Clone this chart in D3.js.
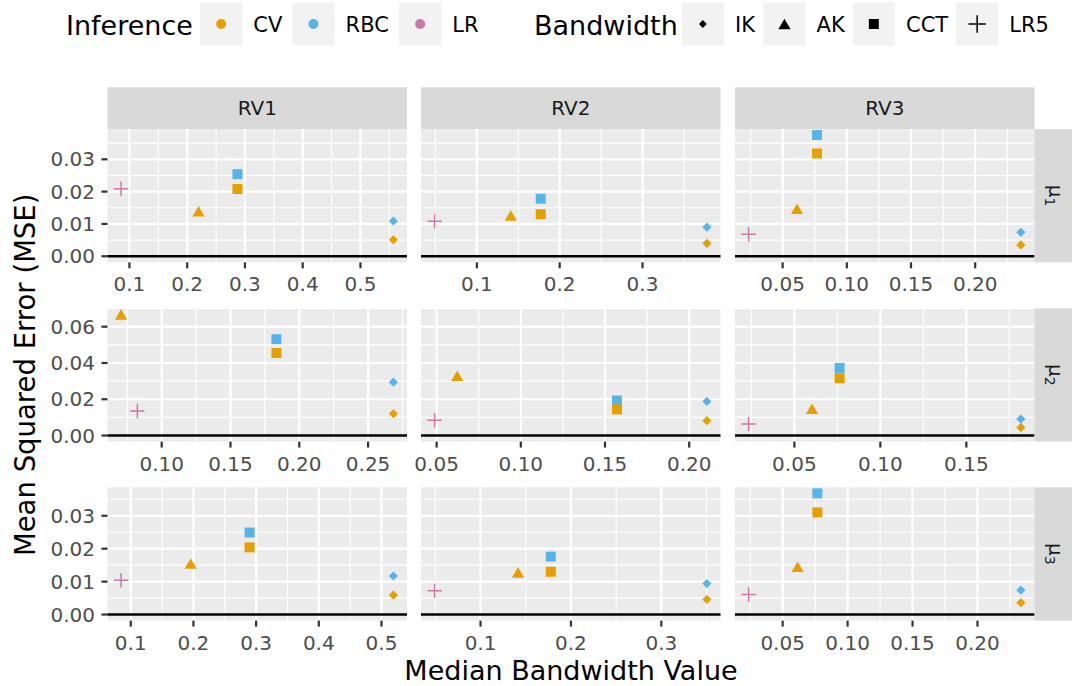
<!DOCTYPE html>
<html><head><meta charset="utf-8">
<script src="https://cdn.jsdelivr.net/npm/d3@7/dist/d3.min.js"></script>
<style>
body{margin:0;background:#fff}
svg{display:block}
text{font-family:"DejaVu Sans",sans-serif}
</style>
</head><body>
<svg id="chart" width="1082" height="686"></svg>
<script>
// ---------------- DATA ----------------
const rowSubscripts = ["1","2","3"];          // μ1, μ2, μ3
const colLabels = ["RV1","RV2","RV3"];
const inferenceLevels = ["CV","RBC","LR"];
const bandwidthLevels = ["IK","AK","CCT","LR5"];
// point series: [inference, bandwidth] (drawn in this order)
const seriesKeys = [["RBC","IK"],["CV","IK"],["CV","AK"],["RBC","CCT"],["CV","CCT"],["LR","LR5"]];

// median bandwidth per panel: [IK, AK, CCT, LR5] ; columns RV1, RV2, RV3
const bandwidthMu1 = [[0.557,0.2197,0.287,0.0856],[0.3777,0.141,0.1771,0.049],[0.2356,0.0612,0.0768,0.0235]];
const bandwidthMu2 = [[0.2684,0.0705,0.1834,0.0823],[0.2105,0.0622,0.1571,0.0488],[0.1817,0.0603,0.0763,0.0234]];
const bandwidthMu3 = [[0.519,0.1956,0.2896,0.0846],[0.3504,0.1415,0.1777,0.0492],[0.2334,0.0615,0.0767,0.0238]];

// MSE per panel, same order as seriesKeys: RBC-IK, CV-IK, CV-AK, RBC-CCT, CV-CCT, LR-LR5
const mseMu1 = [[0.0109,0.0051,0.0139,0.0254,0.0208,0.0209],[0.0090,0.0040,0.0126,0.0178,0.0130,0.0108],[0.0074,0.0035,0.0147,0.0375,0.0318,0.0068]];
const mseMu2 = [[0.0294,0.0120,0.0668,0.0531,0.0455,0.0135],[0.0188,0.0082,0.0330,0.0193,0.0144,0.0084],[0.0091,0.0044,0.0148,0.0373,0.0316,0.0064]];
const mseMu3 = [[0.0117,0.0059,0.0155,0.0249,0.0204,0.0104],[0.0094,0.0046,0.0128,0.0176,0.0130,0.0072],[0.0074,0.0036,0.0145,0.0368,0.0310,0.0061]];

// tick values
const xTicksMu1 = [[0.1,0.2,0.3,0.4,0.5],[0.1,0.2,0.3],[0.05,0.10,0.15,0.20]];
const xTicksMu2 = [[0.10,0.15,0.20,0.25],[0.05,0.10,0.15,0.20],[0.05,0.10,0.15]];
const xTicksMu3 = [[0.1,0.2,0.3,0.4,0.5],[0.1,0.2,0.3],[0.05,0.10,0.15,0.20]];
const yTicksRows = [[0,0.01,0.02,0.03],[0,0.02,0.04,0.06],[0,0.01,0.02,0.03]];

const xTitle = "Median Bandwidth Value";
const yTitle = "Mean Squared Error (MSE)";
const inferenceTitle = "Inference";
const bandwidthTitle = "Bandwidth";

// ---------------- STYLE / LAYOUT ----------------
const colors = {CV:"#E69F00", RBC:"#56B4E9", LR:"#CC79A7"};
const panelLefts = [107.5, 421, 735];
const panelW = 299.5;
const panelTops = [129, 308.3, 487.3];
const panelH = 133.3;
const stripH = 41.7, stripW = 37.5;
const tickLen = 6;

const bandwidthRows = [bandwidthMu1, bandwidthMu2, bandwidthMu3];
const mseRows = [mseMu1, mseMu2, mseMu3];
const xTickRows = [xTicksMu1, xTicksMu2, xTicksMu3];

const svg = d3.select("#chart");

function shapePath(bw, s) {
  if (bw === "IK") { const r = 4.6*s; return `M0,${-r}L${r},0L0,${r}L${-r},0Z`; }
  if (bw === "AK") { const w = 6.1*s, h = 10.6*s; return `M0,${-h/2}L${w},${h/2}L${-w},${h/2}Z`; }
  if (bw === "CCT") { const a = 5*s; return `M${-a},${-a}H${a}V${a}H${-a}Z`; }
  const p = 7.2*s; return `M${-p},0H${p}M0,${-p}V${p}`;
}
function drawShape(g, bw, color, s) {
  const p = g.append("path").attr("d", shapePath(bw, s));
  if (bw === "LR5") p.attr("fill","none").attr("stroke",color).attr("stroke-width",1.5);
  else p.attr("fill",color).attr("stroke","none");
  return p;
}
function expandDomain(lo, hi) { const d = (hi-lo)*0.05; return [lo-d, hi+d]; }
function minorTicks(ticks, domain) {
  const step = ticks[1]-ticks[0];
  const out = [];
  for (let i=-1;i<ticks.length;i++) {
    const v = ticks[0] + (i+0.5)*step;
    if (v > domain[0] && v < domain[1]) out.push(v);
  }
  return out;
}

// y scales per row (shared across columns, including hline at 0)
const yScales = mseRows.map((rowVals, r) => {
  const all = rowVals.flat().concat([0]);
  return d3.scaleLinear().domain(expandDomain(d3.min(all), d3.max(all)))
    .range([panelTops[r]+panelH, panelTops[r]]);
});

for (let r=0;r<3;r++) {
  for (let c=0;c<3;c++) {
    const bws = bandwidthRows[r][c];
    const mses = mseRows[r][c];
    const pts = seriesKeys.map((k,i) => ({inf:k[0], bw:k[1], x:bws[bandwidthLevels.indexOf(k[1])], y:mses[i]}));
    const x = d3.scaleLinear().domain(expandDomain(d3.min(bws), d3.max(bws)))
      .range([panelLefts[c], panelLefts[c]+panelW]);
    const y = yScales[r];
    const x0 = panelLefts[c], y0 = panelTops[r];
    const g = svg.append("g");
    g.append("rect").attr("x",x0).attr("y",y0).attr("width",panelW).attr("height",panelH).attr("fill","#EBEBEB");
    const xt = xTickRows[r][c], yt = yTicksRows[r];
    const xm = minorTicks(xt, x.domain()), ym = minorTicks(yt, y.domain());
    xm.forEach(v => g.append("line").attr("x1",x(v)).attr("x2",x(v)).attr("y1",y0).attr("y2",y0+panelH).attr("stroke","#fff").attr("stroke-width",1.1));
    ym.forEach(v => g.append("line").attr("x1",x0).attr("x2",x0+panelW).attr("y1",y(v)).attr("y2",y(v)).attr("stroke","#fff").attr("stroke-width",1.1));
    xt.forEach(v => g.append("line").attr("x1",x(v)).attr("x2",x(v)).attr("y1",y0).attr("y2",y0+panelH).attr("stroke","#fff").attr("stroke-width",2.2));
    yt.forEach(v => g.append("line").attr("x1",x0).attr("x2",x0+panelW).attr("y1",y(v)).attr("y2",y(v)).attr("stroke","#fff").attr("stroke-width",2.2));
    g.append("line").attr("x1",x0).attr("x2",x0+panelW).attr("y1",y(0)).attr("y2",y(0)).attr("stroke","#000").attr("stroke-width",2.4);
    pts.forEach(p => {
      const sg = g.append("g").attr("transform",`translate(${x(p.x)},${y(p.y)})`);
      drawShape(sg, p.bw, colors[p.inf], 1);
    });
    const xfmt = d3.format("." + d3.precisionFixed(xt[1]-xt[0]) + "f");
    xt.forEach(v => {
      g.append("line").attr("x1",x(v)).attr("x2",x(v)).attr("y1",y0+panelH).attr("y2",y0+panelH+tickLen).attr("stroke","#333").attr("stroke-width",2.2);
      g.append("text").attr("x",x(v)).attr("y",y0+panelH+29).attr("text-anchor","middle")
        .attr("font-size",20).attr("fill","#4D4D4D").text(xfmt(v));
    });
    if (c===0) {
      const yfmt = d3.format("." + d3.precisionFixed(yt[1]-yt[0]) + "f");
      yt.forEach(v => {
        g.append("line").attr("x1",x0-tickLen).attr("x2",x0).attr("y1",y(v)).attr("y2",y(v)).attr("stroke","#333").attr("stroke-width",2.2);
        g.append("text").attr("x",x0-12.5).attr("y",y(v)+7.2).attr("text-anchor","end")
          .attr("font-size",20).attr("fill","#4D4D4D").text(yfmt(v));
      });
    }
    if (r===0) {
      g.append("rect").attr("x",x0).attr("y",y0-stripH).attr("width",panelW).attr("height",stripH).attr("fill","#D9D9D9");
      g.append("text").attr("x",x0+panelW/2).attr("y",y0-stripH/2+7.2).attr("text-anchor","middle")
        .attr("font-size",20).attr("fill","#1A1A1A").text(colLabels[c]);
    }
    if (c===2) {
      const sx = x0+panelW;
      g.append("rect").attr("x",sx).attr("y",y0).attr("width",stripW).attr("height",panelH).attr("fill","#D9D9D9");
      const t = g.append("text").attr("transform",`translate(${sx+stripW/2-4},${y0+panelH/2}) rotate(90)`)
        .attr("text-anchor","middle").attr("font-size",20).attr("fill","#1A1A1A");
      t.append("tspan").text("μ");
      t.append("tspan").attr("font-size",14).attr("dy",4).text(rowSubscripts[r]);
    }
  }
}

// axis titles
const plotCenterX = (panelLefts[0] + panelLefts[2] + panelW)/2;
svg.append("text").attr("x",plotCenterX).attr("y",680).attr("text-anchor","middle")
  .attr("font-size",27).attr("fill","#000").text(xTitle);
const plotCenterY = (panelTops[0] + panelTops[2] + panelH)/2;
svg.append("text").attr("transform",`translate(34.5,${plotCenterY}) rotate(-90)`).attr("text-anchor","middle")
  .attr("font-size",27.5).attr("fill","#000").text(yTitle);

// legend
const legY = 24, keyW = 42.3, keyH = 43.4;
const lg = svg.append("g");
lg.append("text").attr("x",66).attr("y",legY+10.5).attr("font-size",27).attr("fill","#000").text(inferenceTitle);
const infKeyX = [200, 292.3, 399];
inferenceLevels.forEach((lv,i) => {
  const kx = infKeyX[i];
  lg.append("rect").attr("x",kx).attr("y",legY-keyH/2).attr("width",keyW).attr("height",keyH).attr("fill","#F2F2F2");
  lg.append("circle").attr("cx",kx+keyW/2).attr("cy",legY).attr("r",5).attr("fill",colors[lv]);
  lg.append("text").attr("x",kx+keyW+11).attr("y",legY+8).attr("font-size",21).attr("fill","#000").text(lv);
});
lg.append("text").attr("x",534).attr("y",legY+10.5).attr("font-size",27).attr("fill","#000").text(bandwidthTitle);
const bwKeyX = [681.7, 763.3, 852.7, 956];
bandwidthLevels.forEach((lv,i) => {
  const kx = bwKeyX[i];
  lg.append("rect").attr("x",kx).attr("y",legY-keyH/2).attr("width",keyW).attr("height",keyH).attr("fill","#F2F2F2");
  const sg = lg.append("g").attr("transform",`translate(${kx+keyW/2},${legY})`);
  const s = lv==="LR5" ? 1.2 : (lv==="IK" ? 0.85 : 1);
  drawShape(sg, lv, "#000", s);
  lg.append("text").attr("x",kx+keyW+11).attr("y",legY+8).attr("font-size",21).attr("fill","#000").text(lv);
});
</script>
</body></html>
